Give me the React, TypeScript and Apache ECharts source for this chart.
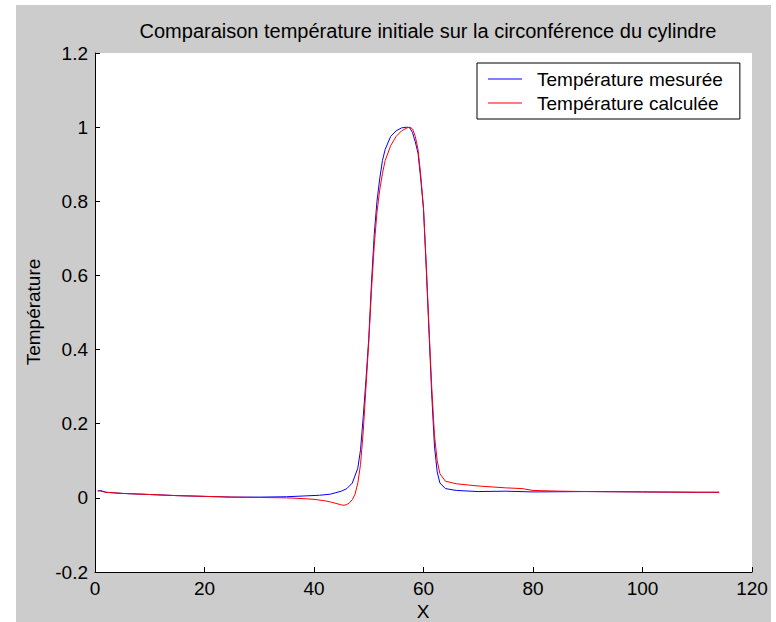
import React, { useEffect, useRef } from "react";
import * as echarts from "echarts";

const titleText = "Comparaison température initiale sur la circonférence du cylindre";
const seriesNames = ["Température mesurée", "Température calculée"];
const xTitle = "X";
const yTitle = "Température";

const measuredX = [0.5, 1, 2, 5, 10, 15, 20, 25, 30, 35, 38, 41, 43, 45, 46, 47, 48, 48.5, 49, 49.5, 50, 50.5, 51, 51.5, 52, 52.5, 53, 54, 55, 56, 57, 57.5, 58, 58.5, 59, 59.5, 60, 60.5, 61, 61.5, 62, 62.5, 63, 64, 66, 70, 75, 80, 90, 100, 110, 114];
const measuredY = [0.018, 0.02, 0.015, 0.012, 0.009, 0.006, 0.004, 0.002, 0.002, 0.003, 0.005, 0.007, 0.01, 0.018, 0.025, 0.04, 0.08, 0.13, 0.22, 0.32, 0.43, 0.58, 0.71, 0.8, 0.86, 0.91, 0.94, 0.975, 0.99, 0.998, 1.0, 0.998, 0.985, 0.96, 0.93, 0.86, 0.78, 0.62, 0.45, 0.28, 0.14, 0.07, 0.04, 0.025, 0.02, 0.017, 0.018, 0.016, 0.017, 0.016, 0.015, 0.015];

const calcX = [0.5, 1, 2, 5, 10, 15, 20, 25, 30, 35, 38, 40, 42, 43, 44, 45, 45.5, 46, 46.5, 47, 47.5, 48, 48.5, 49, 49.5, 50, 50.5, 51, 51.5, 52, 52.5, 53, 54, 55, 56, 57, 57.5, 58, 58.5, 59, 59.5, 60, 60.5, 61, 61.5, 62, 62.5, 63, 64, 66, 70, 75, 78, 80, 85, 90, 100, 110, 114];
const calcY = [0.02, 0.018, 0.015, 0.012, 0.009, 0.006, 0.004, 0.002, 0.001, 0.0, -0.002, -0.004, -0.008, -0.011, -0.015, -0.019, -0.02, -0.018, -0.013, -0.005, 0.01, 0.04, 0.09, 0.18, 0.3, 0.42, 0.56, 0.68, 0.77, 0.83, 0.875, 0.91, 0.95, 0.975, 0.99, 0.998, 1.0, 0.995, 0.975, 0.94, 0.87, 0.78, 0.63, 0.46, 0.3, 0.17, 0.1, 0.065, 0.045, 0.038, 0.032, 0.027, 0.025, 0.02, 0.018, 0.017, 0.016, 0.015, 0.015];

const FONT = "'Liberation Sans', Arial, sans-serif";

export default function App() {
  const ref = useRef<HTMLDivElement>(null);
  useEffect(() => {
    document.body.style.margin = "0";
    const chart = echarts.init(ref.current!, null, { renderer: "svg" });
    const pairs = (xs: number[], ys: number[]) => xs.map((x, i) => [x, ys[i]]);
    chart.setOption({
      animation: false,
      backgroundColor: "#ffffff",
      textStyle: { fontFamily: FONT },
      graphic: [
        { type: "rect", shape: { x: 16, y: 5, width: 755, height: 617 }, style: { fill: "#cccccc" }, z: -10, silent: true },
        { type: "text", x: 428, y: 31, style: { text: titleText, fill: "#000", font: `20px ${FONT}`, textAlign: "center", textVerticalAlign: "middle" } },
        { type: "text", x: 33, y: 312, rotation: Math.PI / 2, style: { text: yTitle, fill: "#000", font: `19px ${FONT}`, textAlign: "center", textVerticalAlign: "middle" } },
        { type: "text", x: 423, y: 611, style: { text: xTitle, fill: "#000", font: `19px ${FONT}`, textAlign: "center", textVerticalAlign: "middle" } },
      ],
      grid: { left: 95, top: 53, width: 657, height: 519, show: true, backgroundColor: "#ffffff", borderWidth: 0, containLabel: false },
      legend: {
        orient: "vertical",
        left: 477,
        top: 63,
        padding: [6, 17, 6, 11],
        itemGap: 4,
        itemWidth: 34,
        itemHeight: 1,
        icon: "rect",
        backgroundColor: "#ffffff",
        borderColor: "#000000",
        borderWidth: 1,
        borderRadius: 0,
        data: seriesNames,
        textStyle: { fontSize: 19, color: "#000", fontFamily: FONT, lineHeight: 20, padding: [0, 0, 0, 10] },
      },
      xAxis: {
        type: "value",
        min: 0,
        max: 120,
        interval: 20,
        axisLine: { show: true, onZero: false, lineStyle: { color: "#000", width: 1 } },
        axisTick: { show: true, inside: true, length: 5, lineStyle: { color: "#000" } },
        axisLabel: { color: "#000", fontSize: 19, margin: 7, fontFamily: FONT },
        splitLine: { show: false },
      },
      yAxis: {
        type: "value",
        min: -0.2,
        max: 1.2,
        interval: 0.2,
        axisLine: { show: true, onZero: false, lineStyle: { color: "#000", width: 1 } },
        axisTick: { show: true, inside: true, length: 5, lineStyle: { color: "#000" } },
        axisLabel: { color: "#000", fontSize: 19, margin: 7, fontFamily: FONT, formatter: (v: number) => String(Math.round(v * 10) / 10) },
        splitLine: { show: false },
      },
      series: [
        { name: seriesNames[0], type: "line", data: pairs(measuredX, measuredY), symbol: "none", lineStyle: { color: "#0000ff", width: 1 }, itemStyle: { color: "#0000ff" } },
        { name: seriesNames[1], type: "line", data: pairs(calcX, calcY), symbol: "none", lineStyle: { color: "#ff0000", width: 1 }, itemStyle: { color: "#ff0000" } },
      ],
    });
    return () => chart.dispose();
  }, []);
  return <div ref={ref} style={{ position: "absolute", left: 0, top: 0, width: 776, height: 622 }} />;
}
